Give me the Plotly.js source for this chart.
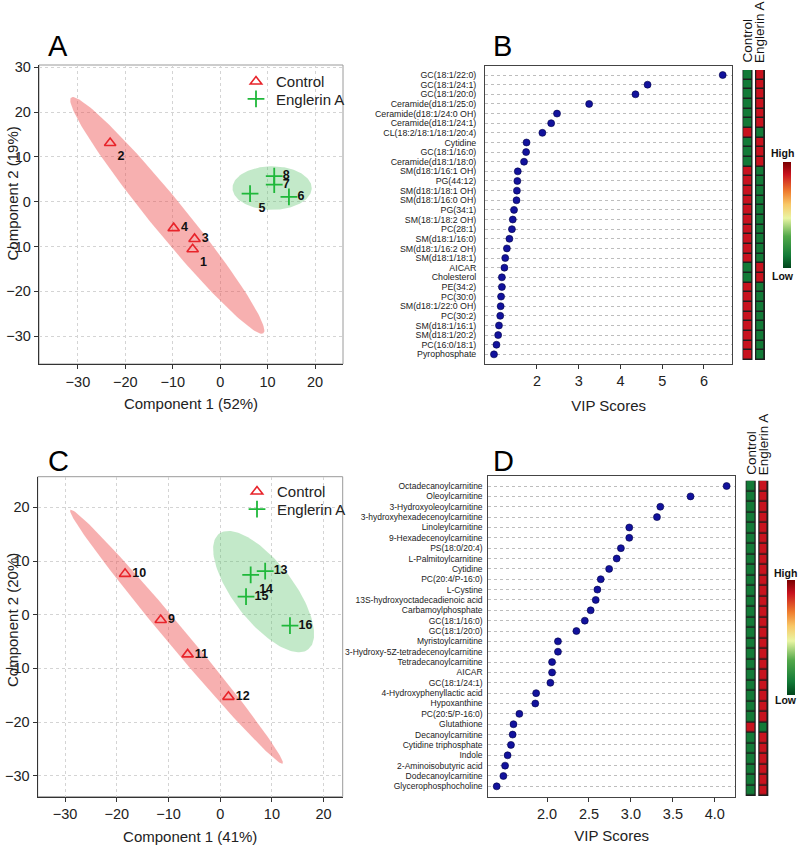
<!DOCTYPE html>
<html><head><meta charset="utf-8">
<script src="https://cdn.plot.ly/plotly-3.0.1.min.js"></script>
<style>html,body{margin:0;padding:0;background:#fff}#chart{width:800px;height:846px}</style>
</head><body><div id="chart"></div>
<script>
// ---------- Panel A: PLS-DA scores ----------
const groupNames = ['Control', 'Englerin A'];
const A_ctrlLabels = ['1', '2', '3', '4'];
const A_ctrlX = [-5.8, -23.2, -5.4, -9.8];
const A_ctrlY = [-10.6, 13.1, -8.3, -5.9];
const A_engLabels = ['5', '6', '7', '8'];
const A_engX = [6.3, 14.5, 11.4, 11.4];
const A_engY = [1.8, 1.1, 3.8, 5.7];
// ellipse: [centerX, centerY, semiMajor, semiMinor, angleDeg]
const A_ctrlEllipse = [-11.15, -3.05, 33.2, 3.7, -52.4];
const A_engEllipse = [10.95, 3.05, 8.35, 4.85, 0];

// ---------- Panel C: PLS-DA scores ----------
const C_ctrlLabels = ['9', '10', '11', '12'];
const C_ctrlX = [-11.5, -18.4, -6.3, 1.6];
const C_ctrlY = [-1.0, 7.6, -7.4, -15.3];
const C_engLabels = ['13', '14', '15', '16'];
const C_engX = [8.7, 5.9, 5.0, 13.5];
const C_engY = [8.1, 7.4, 3.35, -2.05];
const C_ctrlEllipse = [-8.45, -4.1, 31.3, 1.9, -49.0];
const C_engEllipse = [8.4, 4.3, 13.8, 5.7, -50.9];

// ---------- Panel B: VIP scores ----------
const B_names = ['GC(18:1/22:0)', 'GC(18:1/24:1)', 'GC(18:1/20:0)', 'Ceramide(d18:1/25:0)', 'Ceramide(d18:1/24:0 OH)',
  'Ceramide(d18:1/24:1)', 'CL(18:2/18:1/18:1/20:4)', 'Cytidine', 'GC(18:1/16:0)', 'Ceramide(d18:1/18:0)',
  'SM(d18:1/16:1 OH)', 'PG(44:12)', 'SM(d18:1/18:1 OH)', 'SM(d18:1/16:0 OH)', 'PG(34:1)',
  'SM(18:1/18:2 OH)', 'PC(28:1)', 'SM(d18:1/16:0)', 'SM(d18:1/16:2 OH)', 'SM(d18:1/18:1)',
  'AICAR', 'Cholesterol', 'PE(34:2)', 'PC(30:0)', 'SM(d18:1/22:0 OH)',
  'PC(30:2)', 'SM(d18:1/16:1)', 'SM(d18:1/20:2)', 'PC(16:0/18:1)', 'Pyrophosphate'];
const B_vip = [6.45, 4.65, 4.36, 3.25, 2.48, 2.34, 2.13, 1.75, 1.74, 1.69,
  1.54, 1.53, 1.52, 1.51, 1.45, 1.42, 1.40, 1.34, 1.28, 1.24,
  1.22, 1.16, 1.16, 1.14, 1.13, 1.12, 1.09, 1.07, 1.03, 0.97];
const B_ticks = [2, 3, 4, 5, 6];
// relative level: 1 = high, 0 = low
const B_control = [0,0,0,0,0,0,1,0,0,0, 1,1,1,1,1,1,1,1,1,1, 0,0,1,1,1,1,1,1,1,1];
const B_englerin = [1,1,1,1,1,1,0,1,1,1, 0,0,0,0,0,0,0,0,0,0, 1,1,0,0,0,0,0,0,0,0];

// ---------- Panel D: VIP scores ----------
const D_names = ['Octadecanoylcarnitine', 'Oleoylcarnitine', '3-Hydroxyoleoylcarnitine', '3-hydroxyhexadecenoylcarnitine',
  'Linoleylcarnitine', '9-Hexadecenoylcarnitine', 'PS(18:0/20:4)', 'L-Palmitoylcarnitine', 'Cytidine',
  'PC(20:4/P-16:0)', 'L-Cystine', '13S-hydroxyoctadecadienoic acid', 'Carbamoylphosphate', 'GC(18:1/16:0)',
  'GC(18:1/20:0)', 'Myristoylcarnitine', '3-Hydroxy-5Z-tetradecenoylcarnitine', 'Tetradecanoylcarnitine', 'AICAR',
  'GC(18:1/24:1)', '4-Hydroxyphenyllactic acid', 'Hypoxanthine', 'PC(20:5/P-16:0)', 'Glutathione',
  'Decanoylcarnitine', 'Cytidine triphosphate', 'Indole', '2-Aminoisobutyric acid', 'Dodecanoylcarnitine',
  'Glycerophosphocholine'];
const D_vip = [4.14, 3.71, 3.35, 3.31, 2.98, 2.98, 2.88, 2.83, 2.74, 2.64,
  2.60, 2.58, 2.52, 2.45, 2.35, 2.13, 2.13, 2.06, 2.06, 2.04,
  1.87, 1.86, 1.67, 1.60, 1.59, 1.57, 1.53, 1.50, 1.48, 1.40];
const D_ticks = [2.0, 2.5, 3.0, 3.5, 4.0];
const D_control = [0,0,0,0,0,0,0,0,0,0, 0,0,0,0,0,0,0,0,0,0, 0,0,0,1,0,0,0,0,0,0];
const D_englerin = [1,1,1,1,1,1,1,1,1,1, 1,1,1,1,1,1,1,1,1,1, 1,1,1,0,1,1,1,1,1,1];

// ---------- helpers ----------
const W = 800, H = 846;
const px = v => v / W;
const py = v => 1 - v / H;
const FONT = 'Arial, "Liberation Sans", sans-serif';
const RED = '#e8242b', GREEN = '#1fb83a';

function ellipse(p, n) {
  n = n || 160;
  const [cx, cy, a, b, ang] = p;
  const t = ang * Math.PI / 180;
  const xs = [], ys = [];
  for (let i = 0; i <= n; i++) {
    const s = 2 * Math.PI * i / n;
    const u = a * Math.cos(s), v = b * Math.sin(s);
    xs.push(cx + u * Math.cos(t) - v * Math.sin(t));
    ys.push(cy + u * Math.sin(t) + v * Math.cos(t));
  }
  return {x: xs, y: ys};
}
function ellTrace(p, color, xa, ya) {
  const e = ellipse(p);
  return {type: 'scatter', mode: 'lines', x: e.x, y: e.y, xaxis: xa, yaxis: ya, fill: 'toself',
    fillcolor: color, line: {width: 0}, hoverinfo: 'skip', showlegend: false};
}
function ptsTrace(name, xs, ys, labels, positions, xa, ya, isCtrl, legend) {
  return {type: 'scatter', mode: 'markers+text', name: name, x: xs, y: ys, text: labels,
    textposition: positions, xaxis: xa, yaxis: ya, legend: legend,
    textfont: {family: FONT, size: 12.5, color: '#111', weight: 'bold'},
    marker: isCtrl ? {symbol: 'triangle-up-open', size: 10, color: RED, line: {width: 1.6, color: RED}}
                   : {symbol: 'cross-thin-open', size: 12, color: GREEN, line: {width: 1.8, color: GREEN}}};
}
function dotTrace(vals, xa, ya) {
  return {type: 'scatter', mode: 'markers', x: vals, y: vals.map((_, i) => i), xaxis: xa, yaxis: ya,
    marker: {size: 7, color: '#12129c', line: {width: 0.6, color: '#000044'}}, showlegend: false};
}
const heatScale = [[0, '#00441b'], [0.115, '#137a37'], [0.3, '#52a84a'], [0.47, '#e9f5a3'],
  [0.6, '#f8c766'], [0.72, '#ef7d2e'], [0.885, '#c8121e'], [1, '#7a0000']];
function heatTrace(ctrl, eng, xa, ya, cb) {
  return {type: 'heatmap', z: ctrl.map((c, i) => [c, eng[i]]), x: [0, 1], y: ctrl.map((_, i) => i),
    xaxis: xa, yaxis: ya, colorscale: heatScale, zmin: -0.15, zmax: 1.15, xgap: 5, ygap: 1.5,
    hoverinfo: 'skip', showscale: true,
    colorbar: Object.assign({thickness: 8, thicknessmode: 'pixels', lenmode: 'pixels', xanchor: 'left',
      yanchor: 'middle', outlinewidth: 0, showticklabels: false, ticks: '', xpad: 0, ypad: 0}, cb)};
}

const data = [
  ellTrace(A_ctrlEllipse, 'rgba(238,80,80,0.45)', 'x', 'y'),
  ellTrace(A_engEllipse, 'rgba(90,195,105,0.36)', 'x', 'y'),
  ptsTrace(groupNames[0], A_ctrlX, A_ctrlY, A_ctrlLabels, ['bottom right', 'bottom right', 'middle right', 'middle right'], 'x', 'y', true, 'legend'),
  ptsTrace(groupNames[1], A_engX, A_engY, A_engLabels, ['bottom right', 'middle right', 'middle right', 'middle right'], 'x', 'y', false, 'legend3'),
  dotTrace(B_vip, 'x2', 'y2'),
  heatTrace(B_control, B_englerin, 'x3', 'y3', {x: px(783), y: py(214.8), len: 106}),
  ellTrace(C_ctrlEllipse, 'rgba(238,80,80,0.45)', 'x4', 'y4'),
  ellTrace(C_engEllipse, 'rgba(90,195,105,0.36)', 'x4', 'y4'),
  ptsTrace(groupNames[0], C_ctrlX, C_ctrlY, C_ctrlLabels, ['middle right', 'middle right', 'middle right', 'middle right'], 'x4', 'y4', true, 'legend2'),
  ptsTrace(groupNames[1], C_engX, C_engY, C_engLabels, ['middle right', 'bottom right', 'middle right', 'middle right'], 'x4', 'y4', false, 'legend4'),
  dotTrace(D_vip, 'x5', 'y5'),
  heatTrace(D_control, D_englerin, 'x6', 'y6', {x: px(786.5), y: py(637.5), len: 115, thickness: 7.5})
];

const tickFont = {family: FONT, size: 14.5, color: '#222'};
function scoreX(domain, range, title, anchor) {
  return {domain: domain, range: range, anchor: anchor, showgrid: true, gridcolor: '#d4d4d4', griddash: 'dot', gridwidth: 1,
    zeroline: false, showline: true, linecolor: '#333', linewidth: 1.2, ticks: 'outside', ticklen: 4,
    tickcolor: '#333', dtick: 10, tickfont: tickFont, fixedrange: true,
    title: {text: title, font: {family: FONT, size: 15, color: '#222'}, standoff: 10}};
}
function scoreY(domain, range, anchor) {
  return {domain: domain, range: range, anchor: anchor, showgrid: true, gridcolor: '#d4d4d4', griddash: 'dot', gridwidth: 1,
    zeroline: false, showline: true, linecolor: '#333', linewidth: 1.2, ticks: 'outside', ticklen: 4,
    tickcolor: '#333', dtick: 10, tickfont: tickFont, fixedrange: true};
}
function vipX(domain, range, ticks, fmt, anchor, standoff) {
  return {domain: domain, range: range, anchor: anchor, showgrid: false, zeroline: false, showline: true, mirror: true,
    linecolor: '#444', linewidth: 1, ticks: 'outside', ticklen: 4, tickcolor: '#333', tickmode: 'array',
    tickvals: ticks, tickformat: fmt, tickfont: tickFont, fixedrange: true,
    title: {text: 'VIP Scores', font: {family: FONT, size: 15, color: '#222'}, standoff: standoff}};
}
function vipY(domain, names, range, anchor, fs, gap) {
  return {domain: domain, range: range, anchor: anchor, tickmode: 'array', tickvals: names.map((_, i) => i), ticktext: names,
    showgrid: true, gridcolor: '#bdbdbd', griddash: 'dot', gridwidth: 1, zeroline: false, showline: true,
    mirror: true, linecolor: '#444', linewidth: 1, ticks: '', ticklabelstandoff: gap,
    tickfont: {family: FONT, size: fs, color: '#222'}, fixedrange: true};
}
function heatX(domain, anchor) {
  return {domain: domain, range: [-0.5, 1.5], anchor: anchor, showgrid: false, zeroline: false, showticklabels: false,
    ticks: '', showline: false, fixedrange: true};
}
function heatY(domain, anchor) {
  return {domain: domain, range: [29.5, -0.5], anchor: anchor, showgrid: false, zeroline: false, showticklabels: false,
    ticks: '', showline: false, fixedrange: true};
}

function boxShape(xa, ya) {
  return {type: 'rect', xref: xa + ' domain', yref: ya + ' domain', x0: 0, x1: 1, y0: 0, y1: 1,
    line: {color: '#9a9a9a', width: 1}, fillcolor: 'rgba(0,0,0,0)', layer: 'below'};
}
function cellBorders(xa, ya) {
  return [0, 1].map(c => ({type: 'rect', xref: xa, yref: ya, x0: c - 0.4, x1: c + 0.4, y0: -0.56, y1: 29.56,
    fillcolor: '#1e1e1e', line: {width: 0}, layer: 'below'}));
}
function legendAt(x, y) {
  return {x: px(x), y: py(y), xanchor: 'left', yanchor: 'middle', bgcolor: 'rgba(0,0,0,0)',
    font: {family: FONT, size: 15, color: '#222'}, itemwidth: 30, borderwidth: 0};
}

function ann(text, x, y, opts) {
  return Object.assign({text: text, x: px(x), y: py(y), xref: 'paper', yref: 'paper', showarrow: false,
    font: {family: FONT, size: 15, color: '#222'}, xanchor: 'center', yanchor: 'middle'}, opts || {});
}
const letterFont = {family: FONT, size: 29, color: '#000'};
const hdrFont = {family: FONT, size: 13.5, color: '#111'};
const hlFont = {family: FONT, size: 10.5, color: '#111', weight: 'bold'};

const layout = {
  width: W, height: H, margin: {l: 0, r: 0, t: 0, b: 0, autoexpand: false},
  paper_bgcolor: '#fff', plot_bgcolor: 'rgba(0,0,0,0)', hovermode: false,
  xaxis: scoreX([px(39), px(343)], [-38.2, 25.9], 'Component 1 (52%)', 'y'),
  yaxis: scoreY([py(364), py(65)], [-36.2, 30.5], 'x'),
  xaxis2: vipX([px(485), px(732.3)], [0.755, 6.68], B_ticks, 'd', 'y2', 12),
  yaxis2: vipY([py(364), py(65.7)], B_names, [30.0, -0.97], 'x2', 8.8, 6),
  xaxis3: heatX([px(741.25), px(766.25)], 'y3'),
  yaxis3: heatY([py(360), py(70)], 'x3'),
  xaxis4: scoreX([px(37.7), px(342.7)], [-35.3, 23.7], 'Component 1 (41%)', 'y4'),
  yaxis4: scoreY([py(796.7), py(476.7)], [-33.9, 25.7], 'x4'),
  xaxis5: vipX([px(488.3), px(735)], [1.30, 4.24], D_ticks, '.1f', 'y5', 9),
  yaxis5: vipY([py(796.7), py(476)], D_names, [30.0, -0.97], 'x5', 8.5, 3),
  xaxis6: heatX([px(744.4), px(769.6)], 'y6'),
  yaxis6: heatY([py(796), py(480.7)], 'x6'),
  legend: legendAt(236, 81.7),
  legend3: legendAt(236, 99.2),
  legend2: legendAt(237, 491.7),
  legend4: legendAt(237, 509.3),
  shapes: [boxShape('x', 'y'), boxShape('x4', 'y4')].concat(cellBorders('x3', 'y3'), cellBorders('x6', 'y6')),
  annotations: [
    ann('A', 46, 46, {xanchor: 'left', font: letterFont}),
    ann('B', 491, 46, {xanchor: 'left', font: letterFont}),
    ann('C', 46, 461, {xanchor: 'left', font: letterFont}),
    ann('D', 491, 461, {xanchor: 'left', font: letterFont}),
    ann('Component 2 (19%)', 12, 193.5, {textangle: -90}),
    ann('Component 2 (20%)', 12, 620, {textangle: -90}),
    ann(groupNames[0], 747.5, 65, {textangle: -90, yanchor: 'bottom', font: hdrFont}),
    ann(groupNames[1], 760, 65, {textangle: -90, yanchor: 'bottom', font: hdrFont}),
    ann(groupNames[0], 750.7, 477, {textangle: -90, yanchor: 'bottom', font: hdrFont}),
    ann(groupNames[1], 763.3, 477, {textangle: -90, yanchor: 'bottom', font: hdrFont}),
    ann('High', 782, 153, {font: hlFont}),
    ann('Low', 783, 276, {font: hlFont}),
    ann('High', 785, 573, {font: hlFont}),
    ann('Low', 786, 700, {font: hlFont})
  ]
};

Plotly.newPlot('chart', data, layout, {staticPlot: true, displayModeBar: false});
</script></body></html>
